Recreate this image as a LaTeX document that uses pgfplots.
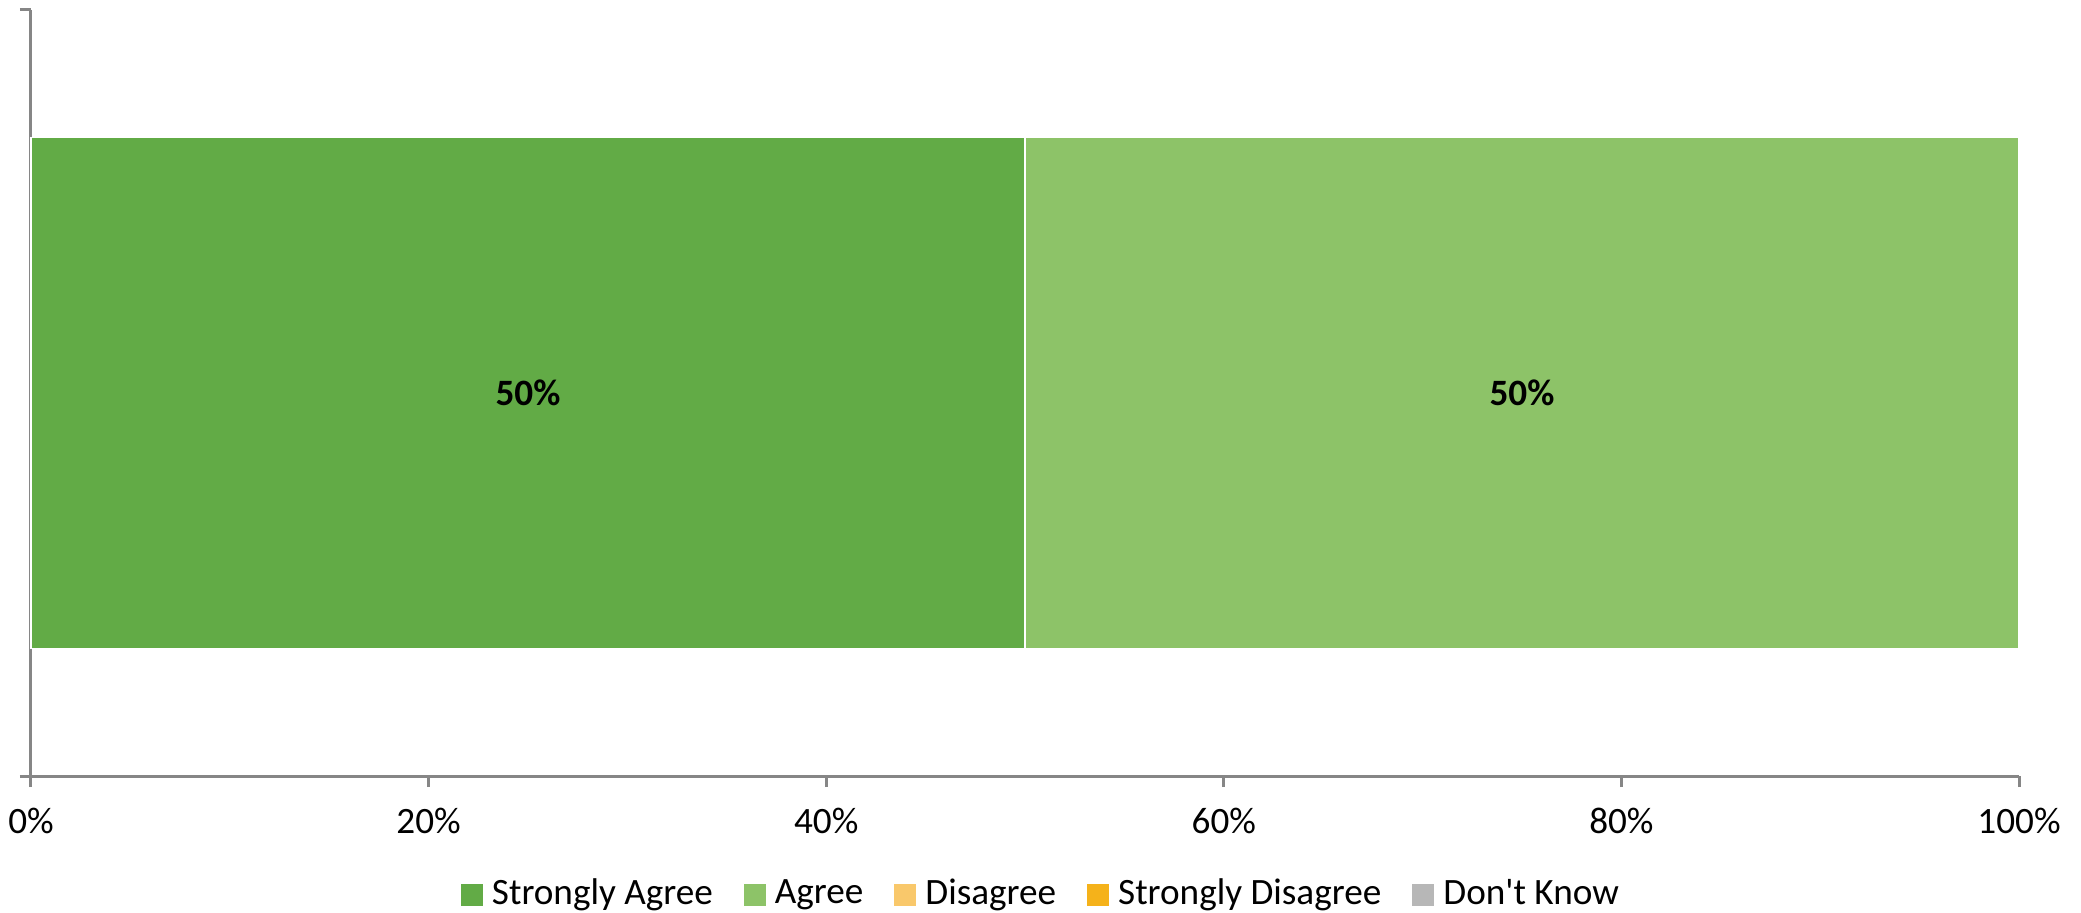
\documentclass[border=0pt]{standalone}
\usepackage{pgfplots}
\pgfplotsset{compat=1.18}
\usepackage{fontspec}
\setmainfont{Carlito}[Ligatures=TeXOff]
\definecolor{sagree}{HTML}{62AB46}
\definecolor{agree}{HTML}{8DC368}
\definecolor{disagree}{HTML}{F9C86B}
\definecolor{sdisagree}{HTML}{F5B21A}
\definecolor{dknow}{HTML}{B7B7B7}
\definecolor{axgray}{HTML}{868686}
\begin{document}
\fontsize{9.3pt}{11pt}\selectfont
\begin{tikzpicture}
\useasboundingbox (0,0) rectangle (520.25pt,228pt);
\begin{axis}[
  at={(7.75pt,34pt)}, anchor=south west,
  scale only axis, width=497pt, height=191.5pt,
  xbar stacked, bar width=1,
  xmin=0, xmax=100, ymin=-0.75, ymax=0.75,
  axis x line=bottom, axis y line=left,
  axis line style={-, draw=axgray, line width=0.75pt},
  tick style={draw=axgray, line width=0.75pt},
  tick align=outside, major tick length=2.75pt,
  xtick={0,20,40,60,80,100},
  xticklabels={0\%,20\%,40\%,60\%,80\%,100\%},
  xticklabel style={font=\fontsize{9.3pt}{11pt}\selectfont, yshift=-2pt},
  ytick={-0.75,0.75}, yticklabels={,},
  point meta=explicit symbolic,
  nodes near coords={\textbf{\pgfplotspointmeta}},
  every node near coord/.append style={anchor=center, font=\fontsize{9.3pt}{11pt}\selectfont},
  legend columns=-1,
  legend style={at={(0.5075,-0.155)}, anchor=center, draw=none, fill=none,
    font=\fontsize{9.3pt}{11pt}\selectfont,
    nodes={inner sep=0pt},
    /tikz/every odd column/.append style={column sep=2.25pt},
    /tikz/every even column/.append style={column sep=7.75pt},
    inner sep=0pt},
  legend image code/.code={\fill[#1, draw=none] (0pt,-2.7pt) rectangle (5.5pt,2.7pt);},
  clip=false,
]
\addplot[fill=sagree, draw=white, line width=0.35pt] coordinates {(50,0) [50\%]};
\addlegendentry{Strongly Agree}
\addplot[fill=agree, draw=white, line width=0.35pt] coordinates {(50,0) [50\%]};
\addlegendentry{Agree}
\addlegendimage{fill=disagree}
\addlegendentry{Disagree}
\addlegendimage{fill=sdisagree}
\addlegendentry{Strongly Disagree}
\addlegendimage{fill=dknow}
\addlegendentry{Don't Know}
\end{axis}
\end{tikzpicture}
\end{document}
